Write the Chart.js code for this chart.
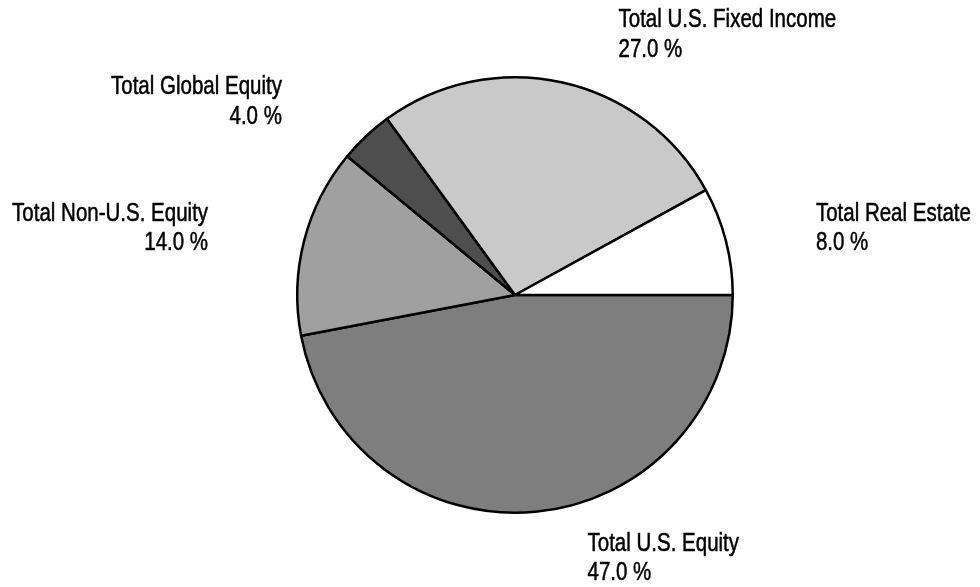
<!DOCTYPE html>
<html lang="en">
<head>
    <meta charset="UTF-8">
    <title>Asset Allocation</title>
    <style>
      html, body { margin: 0; padding: 0; background: #fff; }
      #wrap { width: 980px; height: 587px; position: relative; }
    </style>
</head>
<body>
<div id="wrap">
  <canvas id="allocChart"></canvas>
</div>

<script src="https://cdn.jsdelivr.net/npm/chart.js"></script>
<script>
// slices listed clockwise starting at 3 o'clock
const categories = ['Total U.S. Equity', 'Total Non-U.S. Equity', 'Total Global Equity', 'Total U.S. Fixed Income', 'Total Real Estate'];
const allocations = [47.0, 14.0, 4.0, 27.0, 8.0];
const sliceColors = ['#7e7e7e', '#a0a0a0', '#4e4e4e', '#c9c9c9', '#ffffff'];

// label placement relative to the outer edge of each slice (x, y of first baseline)
const labelNudges = [
  { dx: 52, dy: 39, align: 'left' },
  { dx: -96, dy: -20, align: 'right' },
  { dx: -84, dy: -42, align: 'right' },
  { dx: 56, dy: -55, align: 'left' },
  { dx: 90, dy: -20, align: 'left' }
];

// no narrow font installed, so squeeze the regular one
function narrowText(ctx, text, x, y) {
  ctx.save();
  ctx.translate(x, y);
  ctx.scale(0.82, 1);
  ctx.fillText(text, 0, 0);
  ctx.strokeText(text, 0, 0);
  ctx.restore();
}

const outsideLabels = {
  id: 'outsideLabels',
  afterDatasetsDraw(chart) {
    const ctx = chart.ctx;
    const meta = chart.getDatasetMeta(0);
    ctx.save();
    ctx.fillStyle = '#000';
    ctx.strokeStyle = '#000';
    ctx.lineWidth = 0.5;
    ctx.font = '25px "Liberation Sans", Arial, sans-serif';
    ctx.textBaseline = 'alphabetic';
    meta.data.forEach((arc, i) => {
      const p = arc.getProps(['x', 'y', 'startAngle', 'endAngle', 'outerRadius'], true);
      const mid = (p.startAngle + p.endAngle) / 2;
      const ex = p.x + Math.cos(mid) * p.outerRadius;
      const ey = p.y + Math.sin(mid) * p.outerRadius;
      const n = labelNudges[i];
      ctx.textAlign = n.align;
      narrowText(ctx, categories[i], ex + n.dx, ey + n.dy);
      narrowText(ctx, allocations[i].toFixed(1) + ' %', ex + n.dx, ey + n.dy + 29.5);
    });
    ctx.restore();
  }
};

new Chart(document.getElementById('allocChart'), {
  type: 'pie',
  data: {
    labels: categories,
    datasets: [{
      data: allocations,
      backgroundColor: sliceColors,
      borderColor: '#000',
      borderWidth: 2.5
    }]
  },
  options: {
    responsive: true,
    maintainAspectRatio: false,
    animation: false,
    rotation: 90,
    layout: { padding: { left: 296, right: 246, top: 76, bottom: 73 } },
    plugins: {
      legend: { display: false },
      tooltip: { enabled: false }
    }
  },
  plugins: [outsideLabels]
});
</script>
</body>
</html>
